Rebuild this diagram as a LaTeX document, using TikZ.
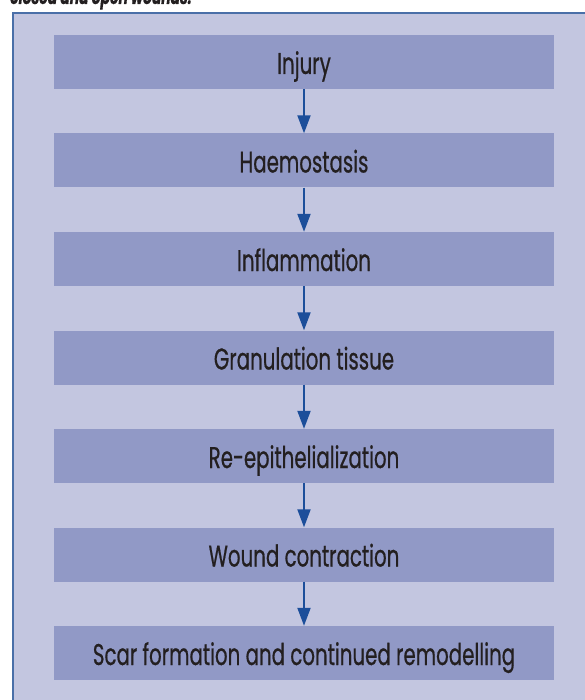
\documentclass[tikz,border=0pt]{standalone}
\usepackage{fontspec}
\setmainfont[FakeStretch=0.66,FakeBold=0.6]{Poppins}
\usetikzlibrary{arrows.meta,positioning}
\definecolor{panelfill}{HTML}{C3C6E0}
\definecolor{panelline}{HTML}{4A6FA8}
\definecolor{boxfill}{HTML}{9199C6}
\definecolor{arrowblue}{HTML}{1C4E9A}
\definecolor{textdark}{HTML}{231F20}
\begin{document}
\begin{tikzpicture}[x=1pt,y=-1pt,
  stage/.style={rectangle, fill=boxfill, minimum width=500pt, minimum height=54pt,
    inner sep=0pt, text height=24pt, text depth=0pt, text=textdark,
    font=\fontsize{30}{32}\selectfont},
  flow/.style={draw=arrowblue, line width=2pt, -{Triangle[length=18pt,width=13pt]}}]
\useasboundingbox (0,0) rectangle (585,700);
\clip (0,0) rectangle (585,700);
% caption, cut at the top
\node [anchor=base west, inner sep=0pt, text=textdark,
  font=\fontsize{21}{22}\selectfont\bfseries\itshape] (cap) at (10,4) {closed and open wounds.};
% panel
\draw [panelline, fill=panelfill, line width=2pt] (13,13) rectangle (620,720);
% stages
\node [stage] (injury) at (304,62) {Injury};
\node [stage] (haemo) at (304,160.5) {Haemostasis};
\node [stage] (inflam) at (304,259) {Inflammation};
\node [stage] (granul) at (304,357.5) {Granulation tissue};
\node [stage] (reepi) at (304,456) {Re-epithelialization};
\node [stage] (contr) at (304,554.5) {Wound contraction};
\node [stage] (scar) at (304,653) {Scar formation and continued remodelling};
% arrows
\draw [flow] (injury) -- (haemo);
\draw [flow] (haemo) -- (inflam);
\draw [flow] (inflam) -- (granul);
\draw [flow] (granul) -- (reepi);
\draw [flow] (reepi) -- (contr);
\draw [flow] (contr) -- (scar);
\end{tikzpicture}
\end{document}
